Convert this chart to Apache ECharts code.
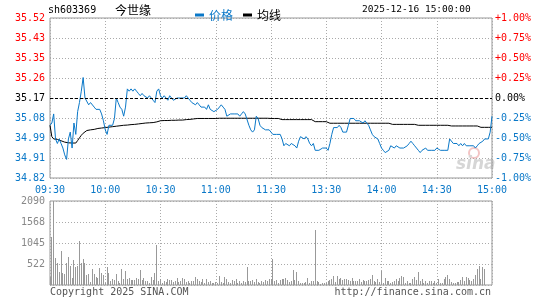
<!DOCTYPE html>
<html>
<head>
<meta charset="UTF-8">
<title>今世缘 分时</title>
<script type="text/javascript" src="https://cdn.jsdelivr.net/npm/echarts@6/dist/echarts.min.js"></script>
<style>
	html,body{margin:0;padding:0;background:#fff;}
	#main{width:545px;height:300px;}
</style>
</head>
<body>
<div id="main"></div>
<script type="text/javascript">
	var prevClose = 35.17;
	var tickLabels = ['09:30','10:00','10:30','11:00','11:30','13:30','14:00','14:30','15:00'];
	var volTicks = ['', '522', '1045', '1568', '2090'];

	// 价格 09:30-11:30 (121) + 13:01-15:00 (120)
	var price = [
		35.05,35.06,35.10,34.99,34.97,34.99,34.97,34.95,34.92,34.90,
		34.99,35.02,34.95,35.06,35.01,35.11,35.15,35.20,35.26,35.17,
		35.17,35.14,35.15,35.15,35.13,35.12,35.12,35.12,35.10,35.07,
		35.03,35.01,35.05,35.05,35.05,35.08,35.17,35.15,35.13,35.12,
		35.09,35.13,35.21,35.20,35.21,35.20,35.21,35.20,35.19,35.18,
		35.19,35.18,35.18,35.17,35.18,35.17,35.16,35.15,35.20,35.21,
		35.18,35.17,35.18,35.17,35.16,35.18,35.18,35.16,35.16,35.17,
		35.17,35.17,35.17,35.17,35.18,35.17,35.16,35.15,35.15,35.14,
		35.15,35.14,35.13,35.13,35.13,35.12,35.14,35.12,35.12,35.11,
		35.11,35.12,35.12,35.14,35.13,35.12,35.09,35.09,35.10,35.10,
		35.10,35.10,35.10,35.09,35.10,35.11,35.10,35.10,35.05,35.03,
		35.02,35.03,35.09,35.08,35.05,35.04,35.04,35.03,35.03,35.03,
		35.02,
		35.01,35.01,35.01,35.01,35.01,34.99,34.96,34.97,34.97,34.96,
		34.97,34.97,34.96,34.95,34.98,35.00,35.00,34.99,35.00,34.99,
		34.97,34.96,34.97,34.94,34.94,34.94,34.94,34.95,34.95,34.95,
		34.94,34.97,35.01,35.04,35.04,35.04,35.05,35.04,35.02,35.02,
		35.02,35.05,35.08,35.08,35.08,35.07,35.07,35.07,35.07,35.06,
		35.07,35.07,35.05,35.03,35.01,35.00,35.00,34.99,34.97,34.95,
		34.94,34.93,34.93,34.94,34.96,34.96,34.95,34.96,34.96,34.95,
		34.95,34.95,34.95,34.96,34.97,34.98,34.97,34.96,34.95,34.94,
		34.93,34.94,34.94,34.95,34.94,34.94,34.94,34.94,34.94,34.95,
		34.95,34.94,34.94,34.94,34.94,34.94,34.99,34.99,34.97,34.97,
		34.97,34.96,34.97,34.96,34.97,34.96,34.96,34.96,34.96,34.96,
		34.95,34.96,34.97,34.97,34.98,34.99,34.99,34.99,35.02,35.09
	];

	// 均线
	var avgPrice = [
		35.050,35.000,34.990,34.990,34.988,34.985,34.982,34.978,34.976,34.974,
		34.973,34.972,34.972,34.972,34.972,34.983,34.995,35.006,35.015,35.022,
		35.027,35.028,35.030,35.031,35.032,35.034,35.036,35.037,35.038,35.039,
		35.040,35.041,35.042,35.043,35.044,35.045,35.046,35.047,35.048,35.049,
		35.050,35.050,35.051,35.052,35.053,35.054,35.054,35.055,35.056,35.057,
		35.058,35.059,35.060,35.060,35.061,35.061,35.062,35.063,35.065,35.070,
		35.070,35.070,35.071,35.071,35.071,35.072,35.072,35.072,35.072,35.072,
		35.073,35.073,35.073,35.074,35.075,35.075,35.076,35.077,35.078,35.079,
		35.080,35.080,35.080,35.080,35.080,35.080,35.080,35.080,35.080,35.080,
		35.080,35.081,35.081,35.081,35.081,35.081,35.081,35.081,35.081,35.081,
		35.081,35.081,35.081,35.081,35.081,35.081,35.081,35.081,35.081,35.081,
		35.081,35.081,35.081,35.081,35.081,35.081,35.081,35.081,35.081,35.081,
		35.080,
		35.080,35.080,35.080,35.080,35.080,35.075,35.075,35.075,35.075,35.075,
		35.075,35.075,35.075,35.075,35.075,35.075,35.075,35.075,35.075,35.075,
		35.075,35.075,35.075,35.066,35.066,35.066,35.066,35.066,35.066,35.066,
		35.066,35.059,35.059,35.059,35.059,35.059,35.059,35.059,35.059,35.059,
		35.059,35.059,35.059,35.059,35.059,35.059,35.059,35.059,35.059,35.059,
		35.059,35.059,35.059,35.059,35.059,35.059,35.059,35.059,35.059,35.059,
		35.059,35.059,35.059,35.059,35.059,35.054,35.054,35.054,35.054,35.054,
		35.054,35.054,35.054,35.054,35.054,35.054,35.054,35.054,35.050,35.050,
		35.050,35.050,35.050,35.050,35.050,35.050,35.050,35.050,35.050,35.050,
		35.050,35.050,35.050,35.050,35.050,35.050,35.050,35.047,35.047,35.047,
		35.047,35.047,35.047,35.047,35.047,35.047,35.047,35.047,35.047,35.047,
		35.047,35.047,35.041,35.041,35.041,35.041,35.041,35.041,35.041,35.041
	];

	// 成交量
	var volume = [
		199,1194,2081,671,547,323,854,298,274,547,
		696,464,174,622,456,464,1094,547,647,547,
		249,274,75,398,274,199,174,423,290,249,
		40,448,298,99,149,133,274,99,50,398,
		149,340,149,174,124,124,124,174,149,373,
		124,174,99,99,50,199,124,298,995,99,
		149,50,99,75,149,124,124,75,99,174,
		75,99,174,149,75,99,50,99,99,199,
		149,99,75,149,50,149,75,99,50,40,
		75,50,224,75,50,199,149,75,50,124,
		99,149,50,99,50,99,75,448,99,99,
		124,75,149,75,50,99,75,124,99,149,
		141,
		647,108,125,58,125,150,150,174,125,83,
		91,374,125,332,91,58,58,58,83,174,
		58,91,91,1370,91,83,33,58,58,58,
		108,125,150,224,83,224,150,174,125,150,
		150,125,108,174,91,91,108,150,83,125,
		91,91,125,141,249,91,83,141,83,357,
		58,174,91,91,58,83,91,150,91,174,
		224,208,58,91,58,58,150,199,125,324,
		91,150,58,91,58,91,108,58,91,58,
		150,58,58,150,199,257,141,83,58,58,
		83,83,125,199,108,199,174,125,91,141,
		249,390,473,141,440,407,0,0,0,0
	];

	function pad(n){ return n < 10 ? '0' + n : '' + n; }
	var times = [];
	for (var i = 0; i <= 120; i++) {
		var t = 9 * 60 + 30 + i;
		times.push(pad(Math.floor(t / 60)) + ':' + pad(t % 60));
	}
	for (var j = 1; j <= 120; j++) {
		var t2 = 13 * 60 + j;
		times.push(pad(Math.floor(t2 / 60)) + ':' + pad(t2 % 60));
	}
	var volData = volume.map(function(v, k){ return [k, v]; });

	var BLUE = '#0a78c8';
	var RED = '#ff0000';
	var MONO = 'DejaVu Sans Mono';
	var CJK = 'Noto Sans CJK SC';
	var dotted = {color:'#aaaaaa', width:1, type:[1,2]};
	function every30(idx){ return idx % 30 === 0; }
	function sideColor(v){
		v = Number(v);
		if (v > 0.0001) return RED;
		if (v < -0.0001) return BLUE;
		return '#000';
	}
	// 1px 竖线柱
	function volBar(params, api){
		var top = api.coord([api.value(0), api.value(1)]);
		var base = api.coord([api.value(0), 0]);
		var x = Math.floor(top[0]);
		return {
			type:'rect',
			shape:{x:x, y:Math.round(top[1]), width:1, height:Math.round(base[1]) - Math.round(top[1])},
			style:{fill:'#999'}
		};
	}

	var myChart = echarts.init(document.getElementById('main'));
	var option = {
		animation:false,
		backgroundColor:'#fff',
		textStyle:{fontFamily:MONO},
		legend:{
			left:190, top:4, itemWidth:9, itemHeight:3, itemGap:10,
			icon:'rect',
			textStyle:{fontFamily:CJK, fontSize:12},
			data:[
				{name:'价格', textStyle:{color:BLUE}},
				{name:'均线', textStyle:{color:'#000'}}
			]
		},
		graphic:[
			{type:'text', left:48, top:5, style:{text:'sh603369', font:'10px "DejaVu Sans Mono"', fill:'#000'}},
			{type:'text', left:115, top:4, style:{text:'今世缘', font:'12px "Noto Sans CJK SC"', fill:'#000'}},
			{type:'text', left:362, top:5, style:{text:'2025-12-16 15:00:00', font:'9.5px "DejaVu Sans Mono"', fill:'#000'}},
			{type:'text', left:50, top:287, style:{text:'Copyright 2025 SINA.COM', font:'10px "DejaVu Sans Mono"', fill:'#555'}},
			{type:'text', right:54, top:287, style:{text:'http://finance.sina.com.cn', font:'10px "DejaVu Sans Mono"', fill:'#555'}},
			{type:'circle', z:-1, shape:{cx:474, cy:153, r:5}, style:{fill:'none', stroke:'#f3c4c4', lineWidth:2}},
			{type:'text', z:-1, left:456, top:156, style:{text:'sina', font:'italic bold 17px "DejaVu Sans"', fill:'#d6d6d6'}}
		],
		grid:[
			{left:50, top:18, width:442, height:160, show:true, borderColor:'#999', borderWidth:1},
			{left:50, top:201, width:442, height:84, show:true, borderColor:'#999', borderWidth:1}
		],
		xAxis:[
			{
				type:'category', gridIndex:0, data:times, boundaryGap:false,
				axisLine:{show:false}, axisTick:{show:false},
				axisLabel:{
					interval:every30, margin:7, color:BLUE, fontSize:10, fontFamily:MONO, hideOverlap:false,
					formatter:function(v, idx){ return tickLabels[idx / 30]; }
				},
				splitLine:{show:true, interval:every30, lineStyle:dotted}
			},
			{
				type:'category', gridIndex:1, data:times, boundaryGap:false,
				axisLine:{show:false}, axisTick:{show:false}, axisLabel:{show:false},
				splitLine:{show:true, interval:every30, lineStyle:dotted}
			}
		],
		yAxis:[
			{
				type:'value', gridIndex:0, min:prevClose * 0.99, max:prevClose * 1.01, show:false
			},
			{
				type:'value', gridIndex:0, position:'left', min:-1, max:1, interval:0.25,
				axisLine:{show:false}, axisTick:{show:false},
				splitLine:{show:true, lineStyle:dotted},
				axisLabel:{
					margin:5, fontSize:10, fontFamily:MONO,
					color:function(v){ return sideColor(v); },
					formatter:function(v){ return (prevClose * (1 + v / 100)).toFixed(2); }
				}
			},
			{
				type:'value', gridIndex:0, position:'right', min:-1, max:1, interval:0.25,
				axisLine:{show:false}, axisTick:{show:false}, splitLine:{show:false},
				axisLabel:{
					margin:3, fontSize:10, fontFamily:MONO,
					color:function(v){ return sideColor(v); },
					formatter:function(v){ return (v > 0.0001 ? '+' : '') + Number(v).toFixed(2) + '%'; }
				}
			},
			{
				type:'value', gridIndex:1, min:0, max:2090, interval:522.5,
				axisLine:{show:false}, axisTick:{show:false},
				splitLine:{show:true, lineStyle:dotted},
				axisLabel:{
					margin:5, fontSize:10, fontFamily:MONO, color:'#888',
					formatter:function(v, idx){ return volTicks[idx]; }
				}
			}
		],
		series:[
			{
				name:'价格', type:'line', xAxisIndex:0, yAxisIndex:0, data:price,
				showSymbol:false, symbol:'none', itemStyle:{color:BLUE},
				lineStyle:{color:BLUE, width:1}, z:3,
				markLine:{
					silent:true, symbol:'none', label:{show:false},
					lineStyle:{color:'#000', type:[3,2], width:1},
					data:[{yAxis:prevClose}]
				}
			},
			{
				name:'均线', type:'line', xAxisIndex:0, yAxisIndex:0, data:avgPrice,
				showSymbol:false, symbol:'none', itemStyle:{color:'#000'},
				lineStyle:{color:'#000', width:1}, z:2
			},
			{
				name:'成交量', type:'custom', xAxisIndex:1, yAxisIndex:3, data:volData,
				encode:{x:0, y:1}, renderItem:volBar, silent:true
			}
		]
	};
	myChart.setOption(option);
</script>
</body>
</html>
